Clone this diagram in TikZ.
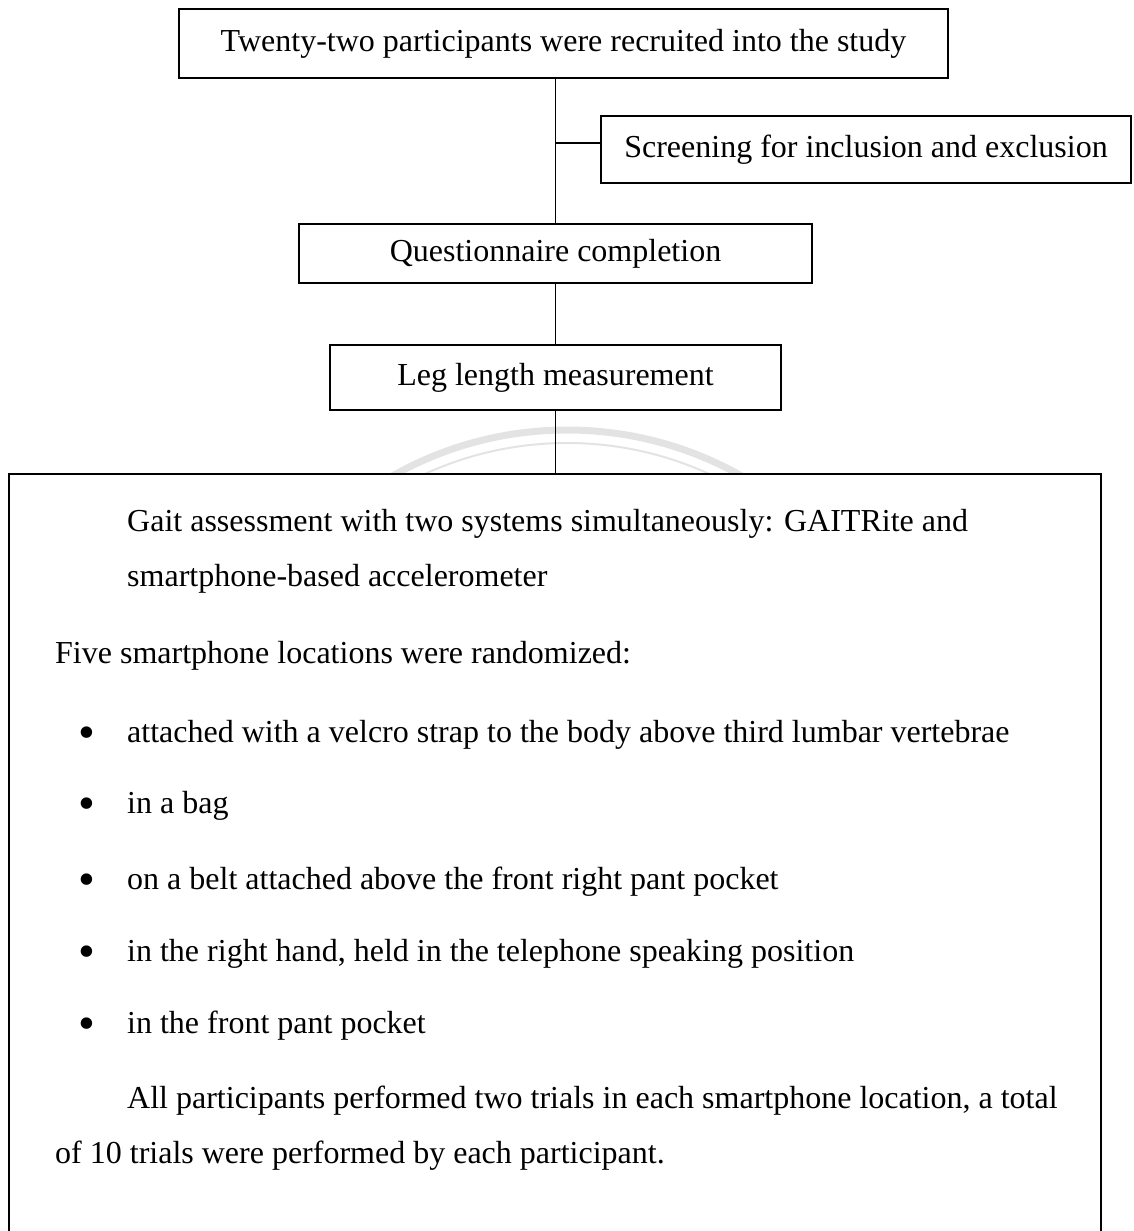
\documentclass[tikz,border=0pt]{standalone}
\usepackage{fontspec}
\setmainfont{Liberation Serif}
\newcommand\flowsize{\fontsize{32}{38}\selectfont}

\begin{document}
\begin{tikzpicture}[
  x=1pt,y=-1pt,
  flowbox/.style={draw,line width=2pt,fill=white,inner sep=0pt,font=\flowsize},
  link/.style={line width=1.3pt},
  textline/.style={anchor=base west,inner sep=0pt,font=\flowsize},
  dot/.style={anchor=center,inner sep=0pt,font=\fontsize{48}{48}\selectfont},
  watermark/.style={draw=black!11}
]
  \useasboundingbox (0,0) rectangle (1133,1231);

  % faint watermark arcs between the last box and the assessment frame
  \begin{scope}
    \clip (300,410) rectangle (850,474);
    \draw[watermark,line width=7pt] (567,784) circle[radius=354];
    \draw[watermark,line width=2pt] (567,784) circle[radius=341];
  \end{scope}

  \node[flowbox,minimum width=769pt,minimum height=69pt] (recruit) at (563.5,43.5)
    {Twenty-two participants were recruited into the study};
  \node[flowbox,minimum width=530pt,minimum height=67pt] (screen) at (866,149.5)
    {Screening for inclusion and exclusion};
  \node[flowbox,minimum width=513pt,minimum height=59pt] (quest) at (555.5,253.5)
    {Questionnaire completion};
  \node[flowbox,minimum width=451pt,minimum height=65pt] (leglen) at (555.5,377.5)
    {Leg length measurement};

  % open frame for the gait assessment
  \draw[line width=2pt,fill=white] (9,1240) -- (9,474) -- (1101,474) -- (1101,1240);
  \coordinate (assess) at (555.5,474);
  \coordinate (branch) at (555.5,143);

  \draw[link] (recruit.south -| quest.north) -- (quest.north);
  \draw[link] (branch) -- (branch -| screen.west);
  \draw[link] (quest.south) -- (leglen.north);
  \draw[link] (leglen.south) -- (assess);

  \node[textline] (gait1) at (127,531) {Gait assessment with two systems simultaneously: GAITRite and};
  \node[textline] (gait2) at (127,586) {smartphone-based accelerometer};
  \node[textline] (five) at (55,663) {Five smartphone locations were randomized:};

  \node[dot] (b1) at (87,738) {\textbullet};
  \node[textline] (loc1) at (127,742) {attached with a velcro strap to the body above third lumbar vertebrae};
  \node[dot] (b2) at (87,809) {\textbullet};
  \node[textline] (loc2) at (127,813) {in a bag};
  \node[dot] (b3) at (87,885) {\textbullet};
  \node[textline] (loc3) at (127,889) {on a belt attached above the front right pant pocket};
  \node[dot] (b4) at (87,957) {\textbullet};
  \node[textline] (loc4) at (127,961) {in the right hand, held in the telephone speaking position};
  \node[dot] (b5) at (87,1029) {\textbullet};
  \node[textline] (loc5) at (127,1033) {in the front pant pocket};

  \node[textline] (all1) at (127,1108) {All participants performed two trials in each smartphone location, a total};
  \node[textline] (all2) at (55,1163) {of 10 trials were performed by each participant.};
\end{tikzpicture}
\end{document}
